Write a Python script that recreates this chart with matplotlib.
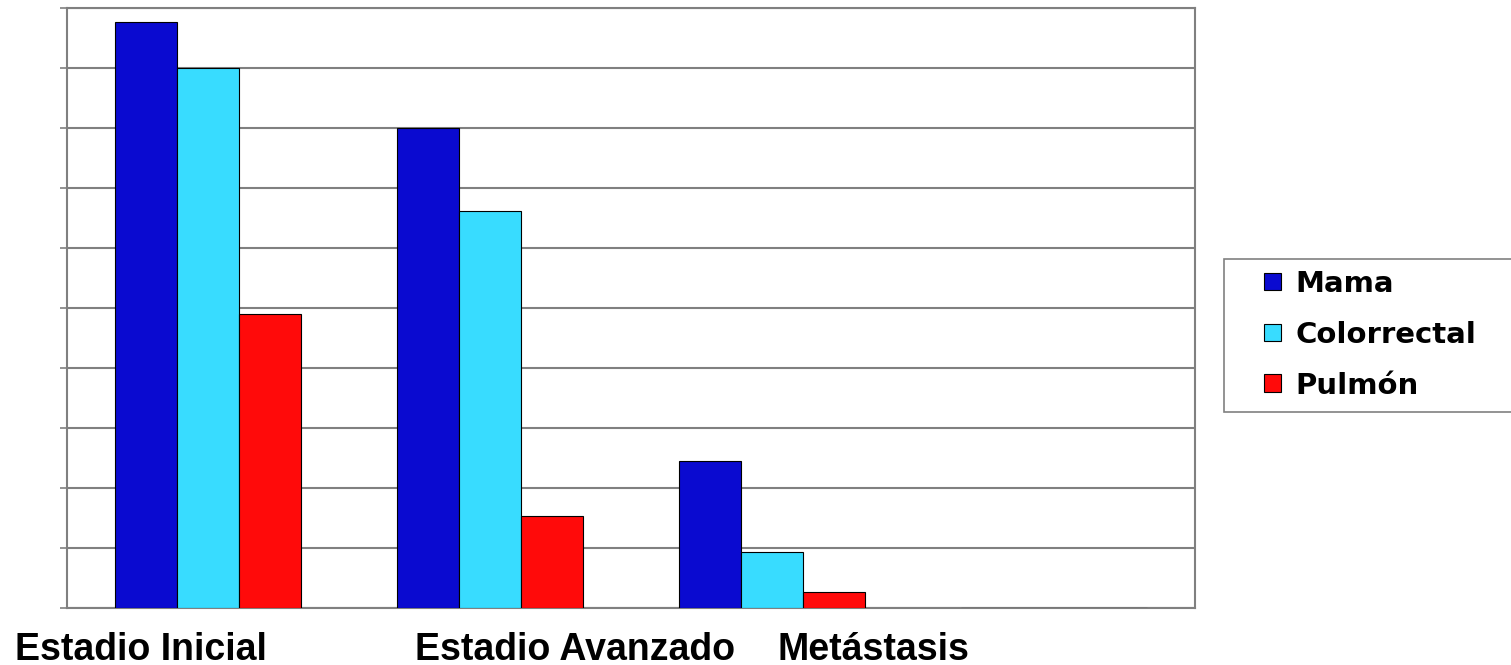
import numpy as np
from matplotlib import pyplot as plt
from matplotlib.patches import Rectangle

categories = ['Estadio Inicial', 'Estadio Avanzado', 'Metástasis', '']
series_names = ['Mama', 'Colorrectal', 'Pulmón']
mama = [9.77, 8.0, 2.45, 0]
colorrectal = [9.0, 6.62, 0.94, 0]
pulmon = [4.9, 1.53, 0.27, 0]
colors = ['#0a0ad0', '#38dcff', '#ff0a0a']

W, H = 1511, 665
fig = plt.figure(figsize=(W / 100, H / 100), dpi=100)
ax = fig.add_axes([0.0443, 0.0857, 0.7466, 0.9023])

x = np.arange(len(categories))
w = 0.22
for k, (vals, name) in enumerate(zip([mama, colorrectal, pulmon], series_names)):
    ax.bar(x + (k - 1) * w, vals, w, color=colors[k], edgecolor='black',
           linewidth=0.8, label=name, zorder=3)

ax.set_xlim(-0.5, 3.5)
ax.set_ylim(0, 10)
ax.set_yticks(range(0, 11))
ax.set_yticklabels([])
ax.set_xticks([])
ax.grid(axis='y', color='#808080', linewidth=1.5, zorder=0)
for s in ax.spines.values():
    s.set_color('#808080')
    s.set_linewidth(1.5)
ax.tick_params(axis='y', direction='out', length=5, color='#808080', width=1.2)

# category labels sit below the axis, not centred on the groups
label_x = [15, 415, 777]
for lx, txt in zip(label_x, categories[:3]):
    fig.text(lx / W, 1 - 660 / H, txt, fontsize=27, fontweight='bold',
             family='Liberation Sans', ha='left', va='baseline')

# legend box, runs off the right edge
fig.patches.append(Rectangle((1224 / W, 1 - 412 / H), 300 / W, 153 / H,
                             transform=fig.transFigure, facecolor='white',
                             edgecolor='#808080', linewidth=1.2))
leg = fig.legend(loc='upper left', bbox_to_anchor=(1264 / W, 1 - 270 / H),
                 frameon=False, handlelength=0.58, handleheight=0.55,
                 handletextpad=0.5, labelspacing=0.78, borderpad=0,
                 borderaxespad=0,
                 prop={'family': 'DejaVu Sans', 'weight': 'bold', 'size': 21})

fig.savefig('out.png', dpi=100)
